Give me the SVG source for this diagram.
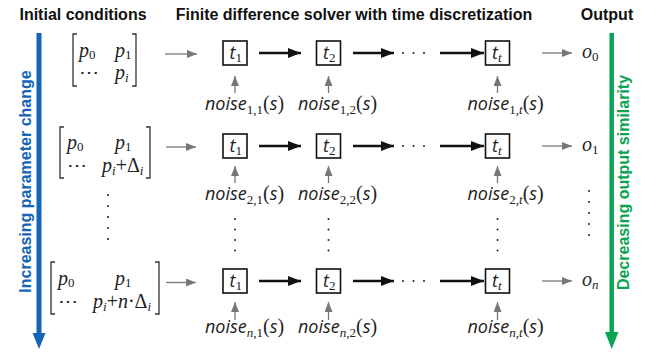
<svg xmlns="http://www.w3.org/2000/svg" width="645" height="352" viewBox="0 0 645 352">
<style>
.hd{font-family:"Liberation Sans",Arial,sans-serif;font-weight:bold;font-size:16px;fill:#111}
.mx{font-family:"Liberation Serif","Times New Roman",serif;font-style:italic;font-size:20px;fill:#222}
.up{font-style:normal}
.sb{font-size:13px}
.nz{font-family:"Open Sans","Noto Sans",sans-serif;font-style:italic;font-size:18px;fill:#222}
.ns{font-family:"Liberation Serif",serif;font-style:normal;font-size:13px}
.ni{font-family:"Liberation Serif",serif;font-style:italic;font-size:13px}
.pr{font-family:"Liberation Serif",serif;font-style:normal;font-size:20px}
.box{fill:#fff;stroke:#111;stroke-width:1.6}
.thick{stroke:#111;stroke-width:2.6;fill:none}
.gray{stroke:#777;stroke-width:1.3;fill:none}
.brk{stroke:#333;stroke-width:1.3;fill:none}
.dot{fill:#222}
</style>
<defs>
<marker id="ga" markerUnits="userSpaceOnUse" markerWidth="11" markerHeight="9" refX="10" refY="4" orient="auto"><path d="M0,0 L10,4 L0,8 z" fill="#777"/></marker>
<marker id="ba" markerUnits="userSpaceOnUse" markerWidth="14" markerHeight="11" refX="13" refY="5" orient="auto"><path d="M0,0 L13,5 L0,10 z" fill="#111"/></marker>
<g id="dots5"><circle cx="0" cy="0" r="1"/><circle cx="0" cy="11" r="1"/><circle cx="0" cy="22" r="1"/><circle cx="0" cy="33" r="1"/><circle cx="0" cy="44" r="1"/></g>
<g id="dots4"><circle cx="0" cy="0" r="1"/><circle cx="0" cy="10.5" r="1"/><circle cx="0" cy="21" r="1"/><circle cx="0" cy="31.5" r="1"/></g>
<g id="hdots"><circle cx="0" cy="0" r="1"/><circle cx="10.5" cy="0" r="1"/><circle cx="21" cy="0" r="1"/></g>
</defs>

<g id="headers">
<text class="hd" x="83" y="20" text-anchor="middle">Initial conditions</text>
<text class="hd" x="354" y="20" text-anchor="middle">Finite difference solver with time discretization</text>
<text class="hd" x="607" y="20" text-anchor="middle">Output</text>
</g>

<g id="blue-axis">
<line x1="39" y1="33" x2="39" y2="334" stroke="#1464b8" stroke-width="5"/>
<polygon points="32.5,333 45.5,333 39,349" fill="#1464b8"/>
<text class="hd" style="fill:#1464b8" transform="translate(31,181.5) rotate(-90)" text-anchor="middle">Increasing parameter change</text>
</g>
<g id="green-axis">
<line x1="611.7" y1="33" x2="611.7" y2="333" stroke="#0aa552" stroke-width="4.5"/>
<polygon points="605,332 618.5,332 611.7,349" fill="#0aa552"/>
<text class="hd" style="fill:#0aa552" transform="translate(629,182.5) rotate(-90)" text-anchor="middle">Decreasing output similarity</text>
</g>

<g id="connectors">
<line class="gray" x1="165" y1="54" x2="197" y2="54" marker-end="url(#ga)"/>
<line class="gray" x1="166" y1="147" x2="196" y2="147" marker-end="url(#ga)"/>
<line class="gray" x1="166" y1="282.5" x2="196" y2="282.5" marker-end="url(#ga)"/>
<line class="thick" x1="259" y1="53" x2="301" y2="53" marker-end="url(#ba)"/>
<line class="thick" x1="353" y1="53" x2="394" y2="53" marker-end="url(#ba)"/>
<line class="thick" x1="440" y1="53" x2="484" y2="53" marker-end="url(#ba)"/>
<line class="thick" x1="259" y1="146" x2="301" y2="146" marker-end="url(#ba)"/>
<line class="thick" x1="353" y1="146" x2="394" y2="146" marker-end="url(#ba)"/>
<line class="thick" x1="440" y1="146" x2="484" y2="146" marker-end="url(#ba)"/>
<line class="thick" x1="259" y1="281" x2="301" y2="281" marker-end="url(#ba)"/>
<line class="thick" x1="353" y1="281" x2="394" y2="281" marker-end="url(#ba)"/>
<line class="thick" x1="440" y1="281" x2="484" y2="281" marker-end="url(#ba)"/>
<line class="gray" x1="542" y1="53" x2="572" y2="53" marker-end="url(#ga)"/>
<line class="gray" x1="542" y1="146" x2="572" y2="146" marker-end="url(#ga)"/>
<line class="gray" x1="542" y1="281" x2="572" y2="281" marker-end="url(#ga)"/>
<line class="gray" x1="235" y1="93" x2="235" y2="76" marker-end="url(#ga)"/>
<line class="gray" x1="328.5" y1="93" x2="328.5" y2="76" marker-end="url(#ga)"/>
<line class="gray" x1="497.5" y1="93" x2="497.5" y2="76" marker-end="url(#ga)"/>
<line class="gray" x1="235" y1="183" x2="235" y2="166" marker-end="url(#ga)"/>
<line class="gray" x1="328.5" y1="183" x2="328.5" y2="166" marker-end="url(#ga)"/>
<line class="gray" x1="497.5" y1="183" x2="497.5" y2="166" marker-end="url(#ga)"/>
<line class="gray" x1="235" y1="320" x2="235" y2="302" marker-end="url(#ga)"/>
<line class="gray" x1="328.5" y1="320" x2="328.5" y2="302" marker-end="url(#ga)"/>
<line class="gray" x1="497.5" y1="320" x2="497.5" y2="302" marker-end="url(#ga)"/>
</g>

<g id="ellipses" class="dot">
<use href="#hdots" x="403" y="53"/>
<use href="#hdots" x="403" y="146"/>
<use href="#hdots" x="403" y="281"/>
<use href="#dots5" x="108" y="195"/>
<use href="#dots5" x="589" y="191"/>
<use href="#dots4" x="235" y="219"/>
<use href="#dots4" x="328.5" y="219"/>
<use href="#dots4" x="497.5" y="219"/>
</g>

<g id="matrix-1">
<path class="brk" d="M77,34 H73 V86 H77 M132,34 H136 V86 H132"/>
<text class="mx" x="79" y="57">p<tspan class="up sb" dy="2">0</tspan></text>
<text class="mx" x="115" y="57">p<tspan class="up sb" dy="2">1</tspan></text>
<text class="mx up" x="79" y="79">⋯</text>
<text class="mx" x="115" y="79">p<tspan class="sb" dy="3">i</tspan></text>
</g>
<g id="matrix-2">
<path class="brk" d="M64,127 H60 V178 H64 M146,127 H150 V178 H146"/>
<text class="mx" x="67" y="149">p<tspan class="up sb" dy="2">0</tspan></text>
<text class="mx" x="115" y="149">p<tspan class="up sb" dy="2">1</tspan></text>
<text class="mx up" x="67" y="172">⋯</text>
<text class="mx" x="102" y="172">p<tspan class="sb" dy="3">i</tspan><tspan class="up" dy="-3">+Δ</tspan><tspan class="sb" dy="3">i</tspan></text>
</g>
<g id="matrix-n">
<path class="brk" d="M55,262 H51 V314 H55 M155,262 H159 V314 H155"/>
<text class="mx" x="58" y="285">p<tspan class="up sb" dy="2">0</tspan></text>
<text class="mx" x="115" y="285">p<tspan class="up sb" dy="2">1</tspan></text>
<text class="mx up" x="58" y="308">⋯</text>
<text class="mx" x="93" y="308">p<tspan class="sb" dy="3">i</tspan><tspan class="up" dy="-3">+</tspan>n<tspan class="up">·Δ</tspan><tspan class="sb" dy="3">i</tspan></text>
</g>

<g id="t-1-1"><rect class="box" x="223" y="41" width="24" height="24"/><text class="nz" x="229.5" y="59">t<tspan class="ns" dy="3">1</tspan></text></g>
<g id="t-1-2"><rect class="box" x="316.5" y="41" width="24" height="24"/><text class="nz" x="323" y="59">t<tspan class="ns" dy="3">2</tspan></text></g>
<g id="t-1-t"><rect class="box" x="485.5" y="41" width="24" height="24"/><text class="nz" x="492" y="59">t<tspan class="ni" dy="3">t</tspan></text></g>
<g id="t-2-1"><rect class="box" x="223" y="134" width="24" height="24"/><text class="nz" x="229.5" y="152">t<tspan class="ns" dy="3">1</tspan></text></g>
<g id="t-2-2"><rect class="box" x="316.5" y="134" width="24" height="24"/><text class="nz" x="323" y="152">t<tspan class="ns" dy="3">2</tspan></text></g>
<g id="t-2-t"><rect class="box" x="485.5" y="134" width="24" height="24"/><text class="nz" x="492" y="152">t<tspan class="ni" dy="3">t</tspan></text></g>
<g id="t-n-1"><rect class="box" x="223" y="269" width="24" height="24"/><text class="nz" x="229.5" y="287">t<tspan class="ns" dy="3">1</tspan></text></g>
<g id="t-n-2"><rect class="box" x="316.5" y="269" width="24" height="24"/><text class="nz" x="323" y="287">t<tspan class="ns" dy="3">2</tspan></text></g>
<g id="t-n-t"><rect class="box" x="485.5" y="269" width="24" height="24"/><text class="nz" x="492" y="287">t<tspan class="ni" dy="3">t</tspan></text></g>

<g id="noise-labels">
<text class="nz" x="205" y="110">noise<tspan class="ns" dy="4">1,1</tspan><tspan class="pr" dy="-4">(</tspan>s<tspan class="pr">)</tspan></text>
<text class="nz" x="298" y="110">noise<tspan class="ns" dy="4">1,2</tspan><tspan class="pr" dy="-4">(</tspan>s<tspan class="pr">)</tspan></text>
<text class="nz" x="467.5" y="110">noise<tspan class="ns" dy="4">1,</tspan><tspan class="ni">t</tspan><tspan class="pr" dy="-4">(</tspan>s<tspan class="pr">)</tspan></text>
<text class="nz" x="205" y="200">noise<tspan class="ns" dy="4">2,1</tspan><tspan class="pr" dy="-4">(</tspan>s<tspan class="pr">)</tspan></text>
<text class="nz" x="298" y="200">noise<tspan class="ns" dy="4">2,2</tspan><tspan class="pr" dy="-4">(</tspan>s<tspan class="pr">)</tspan></text>
<text class="nz" x="467.5" y="200">noise<tspan class="ns" dy="4">2,</tspan><tspan class="ni">t</tspan><tspan class="pr" dy="-4">(</tspan>s<tspan class="pr">)</tspan></text>
<text class="nz" x="205" y="333">noise<tspan class="ni" dy="4">n</tspan><tspan class="ns">,1</tspan><tspan class="pr" dy="-4">(</tspan>s<tspan class="pr">)</tspan></text>
<text class="nz" x="298" y="333">noise<tspan class="ni" dy="4">n</tspan><tspan class="ns">,2</tspan><tspan class="pr" dy="-4">(</tspan>s<tspan class="pr">)</tspan></text>
<text class="nz" x="467.5" y="333">noise<tspan class="ni" dy="4">n</tspan><tspan class="ns">,</tspan><tspan class="ni">t</tspan><tspan class="pr" dy="-4">(</tspan>s<tspan class="pr">)</tspan></text>
</g>

<g id="outputs">
<text class="mx" x="582" y="58">o<tspan class="up sb" dy="3">0</tspan></text>
<text class="mx" x="582" y="151">o<tspan class="up sb" dy="3">1</tspan></text>
<text class="mx" x="582" y="286">o<tspan class="sb" dy="3">n</tspan></text>
</g>
</svg>
